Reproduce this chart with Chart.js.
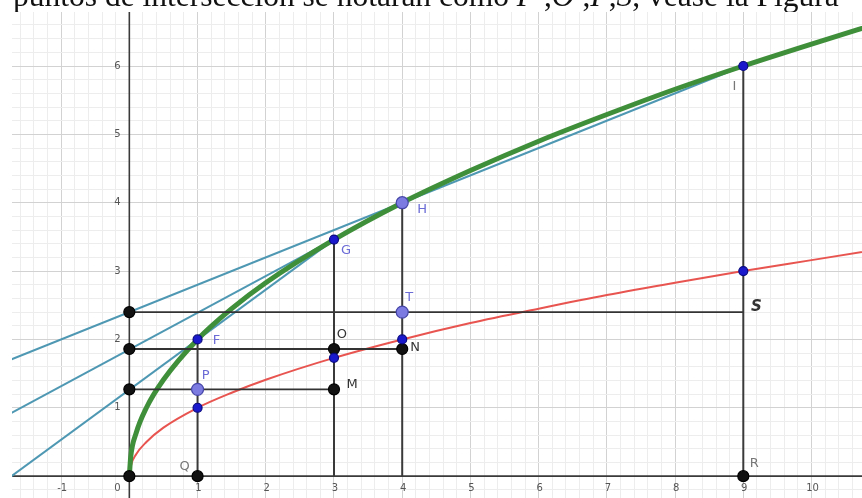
<!DOCTYPE html>
<html>
<head>
<meta charset="utf-8">
<script src="https://cdn.jsdelivr.net/npm/chart.js@4"></script>
<style>
    body { margin: 0; background: #fff; }
    #wrap { position: relative; width: 862px; height: 498px; overflow: hidden; }
    #caption {
        position: absolute; top: 0; left: 0; width: 862px; height: 12px; overflow: hidden;
    }
    #caption span {
        position: absolute; left: 13px; top: -20px; white-space: nowrap;
        font-family: "Liberation Serif", "DejaVu Serif", serif; font-size: 31.5px; line-height: 31.5px; color: #111;
    }
    canvas { position: absolute; top: 0; left: 0; }
</style>
</head>
<body>
<div id="wrap">
    <canvas id="chart" width="862" height="498"></canvas>
    <div id="caption"><span>puntos de intersección se notarán como <i>P</i> ,<i>O</i> ,<i>I</i> ,<i>S</i>, véase la Figura</span></div>
</div>
<script>
// curves
const curveX = [0, 0.02, 0.1, 0.25, 0.5, 1, 1.5, 2, 3, 4, 5, 6, 7, 8, 9, 10, 11];
const greenY = [0, 0.28, 0.63, 1, 1.41, 2, 2.45, 2.83, 3.46, 4, 4.47, 4.9, 5.29, 5.66, 6, 6.32, 6.63];
const redY   = [0, 0.14, 0.32, 0.5, 0.71, 1, 1.22, 1.41, 1.73, 2, 2.24, 2.45, 2.65, 2.83, 3, 3.16, 3.32];

// blue lines (from the left edge to where they stop)
const lineHIx = [-2, 9];   const lineHIy = [1.6, 6];
const lineGHx = [-2, 4];   const lineGHy = [0.78, 4];
const lineFGx = [-2, 3];   const lineFGy = [-0.2, 3.46];

// black segments
const vertX = [1, 3, 4, 9];
const vertTop = [2, 3.46, 4, 6];
const horizY = [2.4, 1.86, 1.27];
const horizEnd = [9, 4, 3];

// points
const bluePtX = [1, 3, 1, 3, 4, 9, 9];
const bluePtY = [2, 3.46, 1, 1.73, 2, 6, 3];
const lightPtX = [4, 4, 1];
const lightPtY = [4, 2.4, 1.27];
const blackPtX = [0, 0, 0, 0, 1, 3, 3, 4, 9];
const blackPtY = [0, 1.27, 1.86, 2.4, 0, 1.86, 1.27, 1.86, 0];

// point names and the point each one belongs to
const labelNames = ['F', 'G', 'H', 'T', 'P', 'O', 'N', 'M', 'Q', 'R', 'I', 'S'];
const labelAtX = [1, 3, 4, 4, 1, 3, 4, 3, 1, 9, 9, 9];
const labelAtY = [2, 3.46, 4, 2.4, 1.27, 1.86, 1.86, 1.27, 0, 0, 6, 2.4];

// axis tick labels
const xTickLabels = ['-1', '0', '1', '2', '3', '4', '5', '6', '7', '8', '9', '10'];
const yTickLabels = ['1', '2', '3', '4', '5', '6'];

// label look: pixel offset from the point, colour
const labelStyle = {
    F: [19, 1, '#6b6bd6'], G: [12, 11, '#6b6bd6'], H: [20, 7, '#6b6bd6'], T: [7, -14, '#6b6bd6'],
    P: [8, -14, '#6b6bd6'], O: [8, -14, '#333'], N: [13, -1, '#333'], M: [18, -5, '#333'],
    Q: [-13, -10, '#777'], R: [11, -13, '#777'], I: [-9, 21, '#777'], S: [13, -5, '#333']
};

const pts = (xs, ys) => xs.map((x, i) => ({ x: x, y: ys[i] }));

const isMultiple = (v, step) => Math.abs(v / step - Math.round(v / step)) < 1e-6;

function gridColor(ctx) {
    const v = ctx.tick.value;
    if (Math.abs(v) < 1e-6) return 'rgba(0,0,0,0)';
    if (isMultiple(v, 1)) return '#d2d2d2';
    if (isMultiple(v, 0.2)) return '#ededed';
    return 'rgba(0,0,0,0)';
}

function lineSet(data, color, width) {
    return {
        data: data, showLine: true, borderColor: color, borderWidth: width,
        pointRadius: 0, fill: false, clip: 0
    };
}
function pointSet(data, fill, border, radius) {
    return {
        data: data, showLine: false, backgroundColor: fill, borderColor: border,
        borderWidth: 1.2, pointRadius: radius, clip: false
    };
}

const datasets = [];
// points on top
datasets.push(pointSet(pts(lightPtX, lightPtY), '#7b7be2', '#4646a8', 6));
datasets.push(pointSet(pts(bluePtX, bluePtY), '#1a1acc', '#0a0a80', 4.5));
datasets.push(pointSet(pts(blackPtX, blackPtY), '#111', '#000', 5.5));
// black segments
vertX.forEach((x, i) => datasets.push(lineSet([{ x: x, y: 0 }, { x: x, y: vertTop[i] }], '#3a3a3a', 2)));
horizY.forEach((y, i) => datasets.push(lineSet([{ x: 0, y: y }, { x: horizEnd[i], y: y }], '#333', 1.8)));
// curves
datasets.push(Object.assign(lineSet(pts(curveX, greenY), '#3f8f3a', 5), { cubicInterpolationMode: 'monotone' }));
datasets.push(Object.assign(lineSet(pts(curveX, redY), '#e85550', 2), { cubicInterpolationMode: 'monotone' }));
// blue lines
datasets.push(lineSet(pts(lineHIx, lineHIy), '#4f98b3', 2));
datasets.push(lineSet(pts(lineGHx, lineGHy), '#4f98b3', 2));
datasets.push(lineSet(pts(lineFGx, lineFGy), '#4f98b3', 2));

const axesPlugin = {
    id: 'geoAxes',
    beforeDatasetsDraw(chart) {
        const ctx = chart.ctx, area = chart.chartArea;
        const x0 = chart.scales.x.getPixelForValue(0);
        const y0 = chart.scales.y.getPixelForValue(0);
        ctx.save();
        ctx.strokeStyle = '#3a3a3a';
        ctx.lineWidth = 1.6;
        ctx.beginPath();
        ctx.moveTo(area.left, y0); ctx.lineTo(area.right, y0);
        ctx.moveTo(x0, area.top); ctx.lineTo(x0, area.bottom);
        ctx.stroke();
        ctx.restore();
    }
};

const textPlugin = {
    id: 'geoText',
    afterDatasetsDraw(chart) {
        const ctx = chart.ctx;
        const xs = chart.scales.x, ys = chart.scales.y;
        ctx.save();
        // axis numbers
        ctx.font = '10px "DejaVu Sans", sans-serif';
        ctx.fillStyle = '#555';
        ctx.textAlign = 'center';
        ctx.textBaseline = 'middle';
        const y0 = ys.getPixelForValue(0);
        const x0 = xs.getPixelForValue(0);
        xTickLabels.forEach(t => {
            const v = Number(t);
            const px = v === 0 ? x0 - 12 : xs.getPixelForValue(v) + 1;
            ctx.fillText(t, px, y0 + 12);
        });
        yTickLabels.forEach(t => {
            ctx.fillText(t, x0 - 12, ys.getPixelForValue(Number(t)));
        });
        // point names
        labelNames.forEach((name, i) => {
            const st = labelStyle[name];
            ctx.fillStyle = st[2];
            ctx.font = name === 'S' ? 'italic bold 15px "DejaVu Sans", sans-serif' : '13px "DejaVu Sans", sans-serif';
            ctx.fillText(name, xs.getPixelForValue(labelAtX[i]) + st[0], ys.getPixelForValue(labelAtY[i]) + st[1]);
        });
        ctx.restore();
    }
};

const axisOpts = (min, max) => ({
    type: 'linear', min: min, max: max,
    ticks: { display: false, stepSize: 0.2, includeBounds: false },
    grid: { color: gridColor, lineWidth: 1, drawTicks: false },
    border: { display: false },
    afterFit(scale) {
        if (scale.isHorizontal()) scale.height = 0; else scale.width = 0;
    }
});

new Chart(document.getElementById('chart').getContext('2d'), {
    type: 'scatter',
    data: { datasets: datasets },
    options: {
        responsive: false,
        animation: false,
        layout: { autoPadding: false, padding: { left: 12, top: 12, right: 0, bottom: 0 } },
        plugins: { legend: { display: false }, tooltip: { enabled: false } },
        scales: {
            x: axisOpts(-1.72, 10.74),
            y: axisOpts(-0.32, 6.79)
        }
    },
    plugins: [axesPlugin, textPlugin]
});
</script>
</body>
</html>
